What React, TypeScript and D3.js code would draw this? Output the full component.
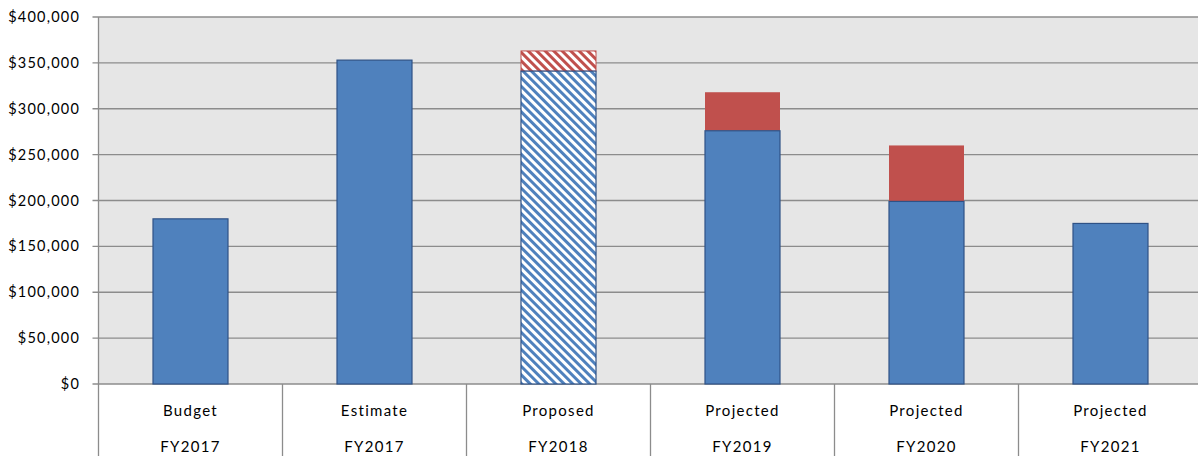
import React from "react";
import * as d3 from "d3";

const categoriesTop = ["Budget", "Estimate", "Proposed", "Projected", "Projected", "Projected"];
const categoriesBottom = ["FY2017", "FY2017", "FY2018", "FY2019", "FY2020", "FY2021"];
const baseValues = [180000, 353000, 341000, 276000, 199000, 175000];
const extraValues = [0, 0, 22000, 42000, 61000, 0];
const hatched = [false, false, true, false, false, false];
const yTicks = [0, 50000, 100000, 150000, 200000, 250000, 300000, 350000, 400000];

const W = 1198, H = 456;
const left = 98.5, top = 17, bottom = 384;
const band = 184;
const BLUE = "#4f81bd", RED = "#c0504d", BLUE_BORDER = "#2f5286";
const FONT = "Lato, 'Open Sans', sans-serif";

export default function App() {
  const idx = categoriesTop.map((_, i) => i);
  const x = d3.scaleBand<number>().domain(idx).range([left, left + band * 6]).paddingInner(0).paddingOuter(0);
  const y = d3.scaleLinear().domain([0, 400000]).range([bottom, top]);
  const bw = 75;
  const fmt = (v: number) => "$" + d3.format(",")(v);
  return (
    <svg width={W} height={H} style={{ position: "absolute", left: 0, top: 0 }}>
      <defs>
        <pattern id="hb" patternUnits="userSpaceOnUse" width="6" height="6" patternTransform="rotate(-45)">
          <rect width="6" height="6" fill="#ffffff" />
          <rect x="0" y="0" width="3" height="6" fill={BLUE} />
        </pattern>
        <pattern id="hr" patternUnits="userSpaceOnUse" width="6" height="6" patternTransform="rotate(-45)">
          <rect width="6" height="6" fill="#ffffff" />
          <rect x="0" y="0" width="3" height="6" fill={RED} />
        </pattern>
      </defs>
      <rect x={0} y={0} width={W} height={H} fill="#ffffff" />
      <rect x={left} y={top} width={W - left} height={bottom - top} fill="#e6e6e6" />
      {yTicks.map((t) => (
        <g key={t}>
          <line x1={left - 6} x2={W} y1={y(t)} y2={y(t)} stroke="#8c8c8c" strokeWidth={1.3} />
          <text x={80} y={y(t)} dy="0.35em" textAnchor="end" fontFamily={FONT} fontSize={14.5} letterSpacing={1.2} fill="#000">{fmt(t)}</text>
        </g>
      ))}
      <line x1={left} x2={left} y1={top} y2={H} stroke="#8c8c8c" strokeWidth={1.3} />
      {idx.slice(1).map((i) => (
        <line key={i} x1={x(i)!} x2={x(i)!} y1={bottom} y2={H} stroke="#8c8c8c" strokeWidth={1.3} />
      ))}
      {idx.map((i) => {
        const cx = x(i)! + x.bandwidth() / 2;
        const bx = cx - bw / 2;
        const b = baseValues[i];
        const e = extraValues[i];
        return (
          <g key={i}>
            {e > 0 && (
              <rect x={bx} y={y(b + e)} width={bw} height={y(b) - y(b + e)}
                fill={hatched[i] ? "url(#hr)" : RED} stroke={hatched[i] ? RED : "none"} strokeWidth={1} />
            )}
            <rect x={bx} y={y(b)} width={bw} height={y(0) - y(b)}
              fill={hatched[i] ? "url(#hb)" : BLUE} stroke={BLUE_BORDER} strokeWidth={1.2} />
            <text x={cx} y={416} textAnchor="middle" fontFamily={FONT} fontSize={15} letterSpacing={1.3} fill="#000">{categoriesTop[i]}</text>
            <text x={cx} y={452} textAnchor="middle" fontFamily={FONT} fontSize={15} letterSpacing={1.3} fill="#000">{categoriesBottom[i]}</text>
          </g>
        );
      })}
    </svg>
  );
}
